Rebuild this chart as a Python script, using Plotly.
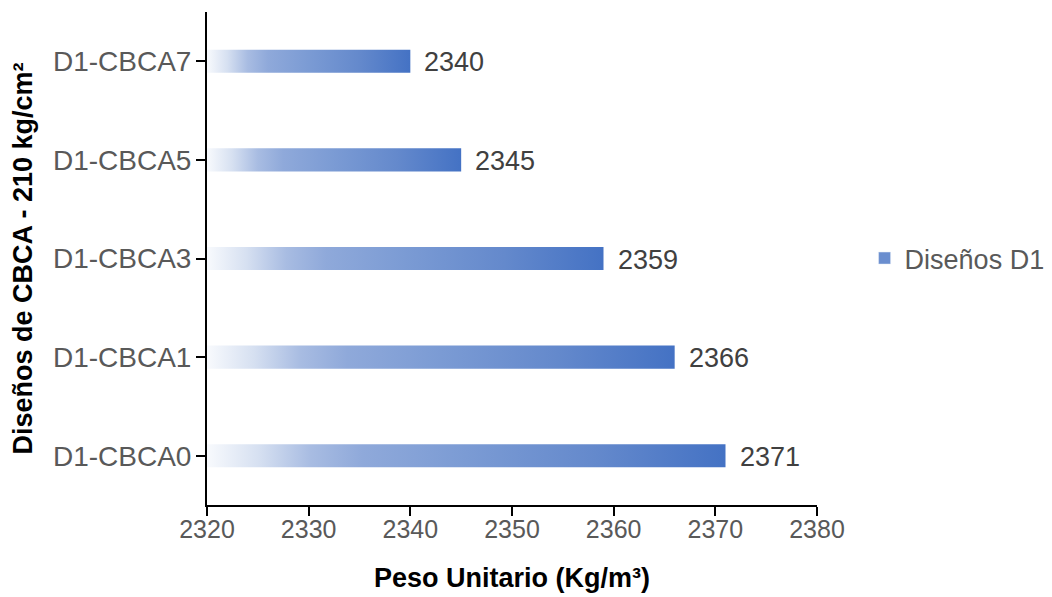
import plotly.graph_objects as go

# --- DATA ---
categorias = ["D1-CBCA0", "D1-CBCA1", "D1-CBCA3", "D1-CBCA5", "D1-CBCA7"]
peso_unitario = [2371, 2366, 2359, 2345, 2340]
serie_nombre = "Diseños D1"
x_ticks = [2320, 2330, 2340, 2350, 2360, 2370, 2380]

# --- STYLE ---
FONT = "Liberation Sans, Arial, sans-serif"
GRIS = "#595959"
AZUL = "#4472c4"
X_MIN = x_ticks[0]
MEDIO_ALTO = 0.117  # half bar thickness in category units

# degradado blanco -> azul, como en Excel
degradado = [
    [0.0, "#f8fafd"],
    [0.1, "#d6e0f1"],
    [0.2, "#a8bce2"],
    [0.3, "#8fa9da"],
    [0.5, "#7b9bd4"],
    [0.75, "#6489cc"],
    [1.0, AZUL],
]

fig = go.Figure()

# barras como poligonos rellenos con gradiente horizontal
for i, (cat, v) in enumerate(zip(categorias, peso_unitario)):
    y0, y1 = i - MEDIO_ALTO, i + MEDIO_ALTO
    fig.add_trace(go.Scatter(
        x=[X_MIN, v, v, X_MIN, X_MIN],
        y=[y0, y0, y1, y1, y0],
        mode="none",
        fill="toself",
        fillcolor=AZUL,
        fillgradient=dict(type="horizontal", colorscale=degradado),
        name=cat,
        showlegend=False,
        hoverinfo="skip",
    ))
    fig.add_annotation(
        x=v, y=i, text=str(v), showarrow=False,
        xanchor="left", yanchor="middle", xshift=12, yshift=-1,
        font=dict(family=FONT, size=27, color="#404040"),
    )

# entrada de leyenda
fig.add_trace(go.Bar(
    x=[None], y=[None], orientation="h", name=serie_nombre,
    marker=dict(color="#6a8ecf"), showlegend=True,
))

# la pagina tiene 8px de margen en body -> compensado en los margenes
fig.update_layout(
    width=1052, height=597,
    paper_bgcolor="white", plot_bgcolor="white",
    margin=dict(l=199, r=243, t=4, b=100),
    font=dict(family=FONT, size=26, color=GRIS),
    legend=dict(
        x=1.078, y=0.5, xanchor="left", yanchor="middle",
        font=dict(family=FONT, size=27, color=GRIS),
        bgcolor="rgba(0,0,0,0)",
    ),
    xaxis=dict(
        range=[X_MIN, x_ticks[-1]], tickvals=x_ticks,
        showgrid=False, zeroline=False, automargin=False,
        showline=True, linecolor="black", linewidth=2,
        ticks="outside", ticklen=9, tickwidth=2, tickcolor="black",
        ticklabelstandoff=-8,
        tickfont=dict(family=FONT, size=25, color=GRIS),
        title=dict(text="<b>Peso Unitario (Kg/m³)</b>", standoff=26,
                   font=dict(family=FONT, size=27, color="black")),
    ),
    yaxis=dict(
        range=[-0.5, len(categorias) - 0.5],
        tickvals=list(range(len(categorias))), ticktext=categorias,
        showgrid=False, zeroline=False, automargin=False,
        showline=True, linecolor="black", linewidth=2,
        ticks="outside", ticklen=9, tickwidth=2, tickcolor="black",
        ticklabelstandoff=-1,
        tickfont=dict(family=FONT, size=28, color=GRIS),
        title=dict(text="<b>Diseños de CBCA - 210 kg/cm²</b>", standoff=12,
                   font=dict(family=FONT, size=27, color="black")),
    ),
)

fig.write_html("out.html")
